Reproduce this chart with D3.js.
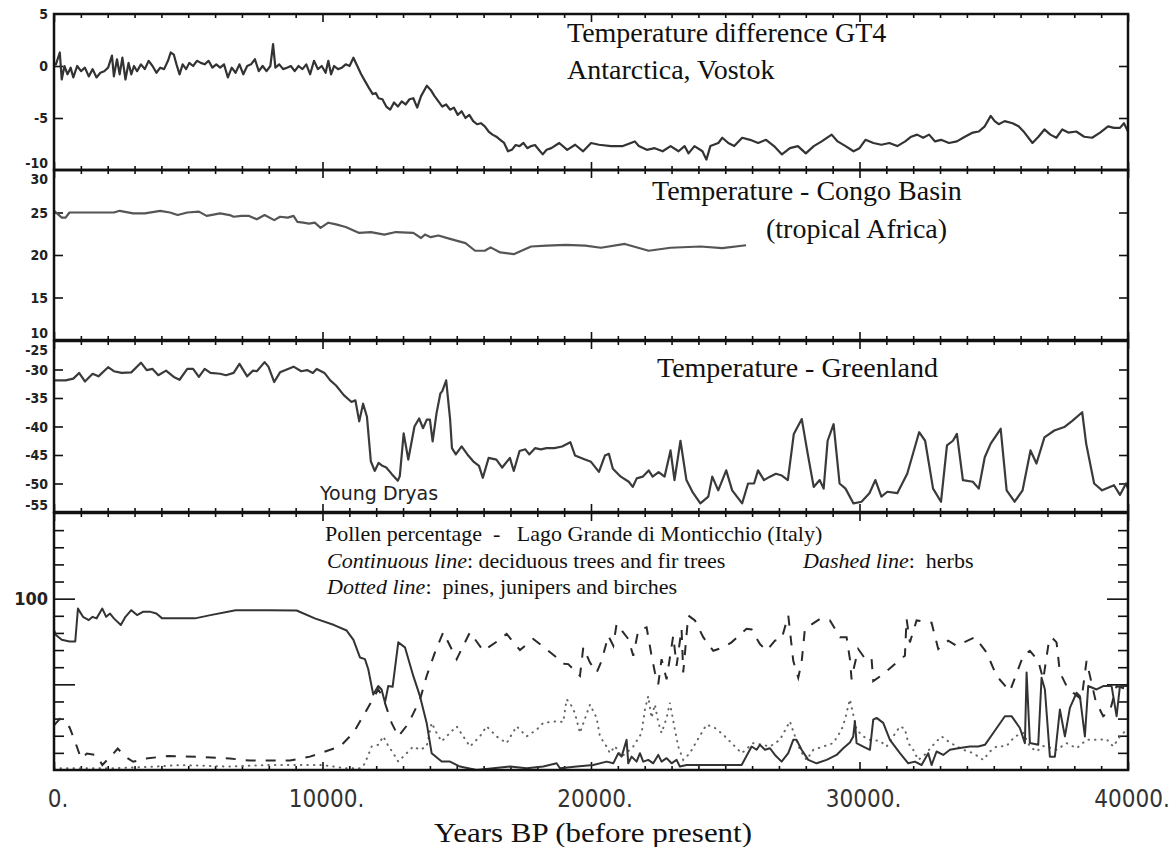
<!DOCTYPE html>
<html>
<head>
<meta charset="utf-8">
<script src="https://cdn.jsdelivr.net/npm/d3@7"></script>
<style>
  html, body { margin: 0; padding: 0; background: #fff; }
  svg { display: block; }
  text { white-space: pre; }
</style>
</head>
<body>
<svg id="chart" width="1171" height="847"></svg>
<script>
// ---------------- DATA ----------------
const xTickValues = [0, 10000, 20000, 30000, 40000];
const xTickLabels = ["0.", "10000.", "20000.", "30000.", "40000."];

const vostokTicks = [5, 0, -5, -10];
const congoTicks = [30, 25, 20, 15, 10];
const greenlandTicks = [-25, -30, -35, -40, -45, -50, -55];
const pollenLabelTicks = [100];

// Vostok temperature difference [years BP, °C]
const vostok = [[0,0.2],[72,0.16],[216,1.3],[288,-1.3],[388,0],[504,-0.8],[619,-0.16],[719,-1.1],[863,0],[1007,-0.5],[1151,-0.16],[1295,-1.0],[1439,-0.3],[1583,-1.1],[1727,-0.65],[1871,-0.5],[2015,-0.16],[2159,1.0],[2230,-1.0],[2346,0.65],[2446,-0.8],[2547,0.8],[2662,-1.3],[2777,0.3],[2878,-0.8],[2979,0],[3094,-0.5],[3238,0.16],[3382,-0.3],[3526,0.5],[3670,0],[3814,-0.65],[3957,-0.16],[4101,-0.3],[4245,0.5],[4346,1.3],[4461,1.1],[4562,0.16],[4677,-0.8],[4792,0.16],[4921,-0.3],[5037,0.3],[5180,0],[5324,0.5],[5468,0.3],[5612,0.16],[5756,0.5],[5900,-0.16],[6044,0.16],[6188,-0.16],[6332,0.16],[6476,-1.1],[6620,-0.16],[6763,-0.65],[6907,0.16],[7051,-0.8],[7195,0],[7339,0.16],[7483,0.65],[7627,-0.5],[7771,0],[7915,-0.5],[8058,0],[8159,2.1],[8245,-0.16],[8389,0.16],[8533,-0.3],[8677,-0.16],[8821,0],[8965,-0.5],[9109,0],[9253,-0.3],[9396,0.16],[9540,-0.8],[9684,0.5],[9828,-0.3],[9972,0],[10116,-0.65],[10217,0.5],[10318,-0.8],[10433,0],[10577,-0.3],[10721,-0.16],[10864,0.16],[11008,0],[11152,0.8],[11296,0],[11440,-0.8],[11584,-1.45],[11728,-2.1],[11872,-2.7],[11986,-2.6],[12088,-3.1],[12231,-3.2],[12375,-3.9],[12519,-4.2],[12663,-3.5],[12807,-3.9],[12951,-3.4],[13095,-3.7],[13239,-3.2],[13383,-3.1],[13527,-4.0],[13670,-2.9],[13886,-1.9],[14030,-2.3],[14174,-2.9],[14318,-3.4],[14461,-3.9],[14605,-3.7],[14749,-4.2],[14893,-4.0],[15037,-4.7],[15181,-4.35],[15325,-5.0],[15468,-4.7],[15612,-5.3],[15756,-5.6],[15900,-5.5],[16044,-5.8],[16188,-6.3],[16332,-6.6],[16476,-6.8],[16620,-7.1],[16764,-7.4],[16908,-8.2],[17051,-8.06],[17195,-7.6],[17339,-7.7],[17483,-7.4],[17627,-7.9],[17771,-7.7],[17915,-7.6],[18058,-8.06],[18202,-8.5],[18346,-8.06],[18522,-7.9],[18818,-7.4],[19114,-8.06],[19410,-7.57],[19707,-8.2],[20003,-7.4],[20299,-7.57],[20744,-7.7],[21188,-7.7],[21484,-7.4],[21632,-7.25],[21780,-7.7],[22077,-8.06],[22373,-7.9],[22669,-8.2],[22965,-7.7],[23261,-8.2],[23484,-7.7],[23632,-8.4],[23854,-7.7],[24150,-8.2],[24298,-9.0],[24446,-7.7],[24743,-7.4],[24891,-6.9],[25113,-7.4],[25335,-7.7],[25631,-6.9],[25928,-7.1],[26224,-7.4],[26520,-7.1],[26816,-7.7],[27112,-8.5],[27409,-7.9],[27705,-7.7],[28001,-8.4],[28297,-7.7],[28593,-7.25],[28963,-6.6],[29185,-7.25],[29482,-7.7],[29778,-8.2],[30000,-7.9],[30222,-7.1],[30518,-7.4],[30815,-7.57],[31111,-7.4],[31407,-7.7],[31703,-7.25],[31925,-6.8],[32147,-6.6],[32370,-6.9],[32592,-6.6],[32814,-7.25],[33036,-7.1],[33332,-7.4],[33628,-7.25],[33925,-6.8],[34221,-6.4],[34443,-6.3],[34665,-5.8],[34887,-4.8],[35035,-5.3],[35184,-5.6],[35406,-5.3],[35702,-5.5],[35924,-5.8],[36146,-6.4],[36442,-7.4],[36665,-6.8],[36887,-6.1],[37109,-6.6],[37331,-6.9],[37553,-6.1],[37775,-6.4],[38072,-6.3],[38368,-6.8],[38664,-6.9],[38960,-6.4],[39257,-5.8],[39479,-5.95],[39701,-5.95],[39849,-5.5],[40000,-6.3]];

// Congo Basin temperature [years BP, °C]
const congo = [[0,25.2],[144,24.8],[288,24.4],[432,24.4],[576,25.0],[1079,25],[1655,25],[2230,25],[2446,25.2],[2950,24.9],[3382,24.9],[3957,25.2],[4317,25],[4605,24.7],[4964,25],[5396,25.1],[5684,24.6],[6188,24.9],[6547,24.7],[6691,24.5],[6979,24.6],[7267,24.6],[7555,24.2],[7843,24.7],[8202,24.1],[8418,24.5],[8706,24.4],[8922,24.6],[9065,23.9],[9281,23.8],[9497,23.7],[9713,23.8],[9929,23.2],[10217,23.8],[10505,23.6],[10864,23.3],[11368,22.6],[11800,22.7],[12303,22.4],[12735,22.7],[13383,22.6],[13670,22.0],[13814,22.4],[14030,22.1],[14318,22.3],[14749,21.9],[15325,21.4],[15684,20.5],[16044,20.5],[16260,20.9],[16620,20.3],[17123,20.1],[17411,20.5],[17771,21.0],[18346,21.1],[19065,21.2],[19785,21.1],[20370,20.85],[21259,21.3],[22148,20.5],[22962,20.85],[24073,21.0],[24887,20.8],[25776,21.15]];

// Greenland temperature [years BP, °C]
const greenland = [[0,-31.9],[432,-31.9],[720,-31.6],[935,-30.6],[1151,-32.1],[1439,-30.75],[1655,-31.2],[2015,-29.6],[2230,-30.3],[2518,-30.6],[2878,-30.5],[3238,-28.8],[3454,-30.1],[3670,-29.9],[3885,-31.0],[4173,-30.2],[4461,-31.3],[4677,-31.8],[4964,-29.9],[5180,-29.9],[5396,-31.3],[5612,-29.9],[5828,-30.6],[6188,-30.75],[6404,-31.0],[6691,-30.6],[6907,-29.0],[7195,-31.2],[7411,-30.2],[7555,-30.3],[7843,-28.7],[7986,-29.5],[8202,-32.2],[8418,-30.5],[8922,-29.5],[9209,-30.3],[9425,-30.1],[9641,-30.6],[9785,-29.9],[10073,-30.6],[10289,-31.9],[10505,-32.8],[10793,-34.5],[11080,-35.7],[11224,-35.4],[11368,-39.1],[11512,-36.0],[11656,-38.3],[11800,-46.1],[11944,-47.8],[12087,-46.4],[12231,-46.9],[12375,-47.2],[12591,-48.4],[12807,-49.5],[12879,-48.7],[13023,-41.2],[13195,-45.8],[13425,-40.0],[13598,-38.6],[13742,-40.3],[13886,-38.8],[14001,-38.8],[14102,-42.6],[14246,-37.7],[14390,-34.2],[14462,-33.8],[14606,-31.9],[14750,-38.6],[14822,-43.8],[14966,-44.9],[15181,-43.5],[15397,-44.9],[15612,-46.1],[15828,-46.9],[15972,-49.0],[16188,-45.5],[16476,-45.8],[16692,-47.2],[16980,-45.5],[17124,-47.8],[17339,-44.3],[17555,-44.0],[17699,-44.9],[17915,-43.8],[18130,-44.0],[18346,-43.8],[18634,-43.8],[18922,-43.5],[19230,-42.75],[19407,-45.1],[19704,-45.65],[20000,-46.2],[20296,-47.97],[20518,-45.1],[20666,-44.8],[20814,-47.4],[21110,-48.8],[21407,-49.7],[21555,-50.6],[21703,-49.1],[21925,-48.8],[22148,-47.7],[22296,-48.8],[22518,-48.0],[22740,-48.8],[22962,-44.2],[23110,-49.4],[23332,-42.5],[23554,-49.4],[23777,-51.45],[24073,-53.5],[24369,-52.3],[24517,-48.8],[24739,-51.2],[25036,-47.7],[25258,-51.2],[25628,-53.5],[25850,-50.0],[26073,-50.0],[26221,-47.7],[26443,-49.4],[26665,-48.8],[26887,-48.3],[27109,-48.6],[27331,-49.4],[27554,-41.3],[27850,-38.7],[28072,-44.8],[28294,-50.6],[28517,-49.4],[28665,-50.9],[28813,-42.5],[29035,-39.6],[29258,-50.0],[29480,-50.9],[29776,-53.5],[30074,-53.2],[30370,-51.7],[30592,-49.4],[30815,-52.3],[31037,-51.45],[31407,-51.7],[31777,-48.3],[32221,-41.0],[32444,-42.5],[32740,-50.9],[33036,-53.2],[33258,-43.3],[33480,-42.5],[33628,-41.3],[33851,-49.4],[34221,-49.7],[34443,-50.9],[34665,-45.4],[34887,-43.0],[35258,-40.4],[35480,-51.2],[35776,-53.2],[36073,-51.2],[36369,-44.2],[36591,-46.5],[36887,-41.9],[37257,-40.7],[37627,-40.1],[37924,-39.0],[38294,-37.5],[38442,-43.0],[38739,-50.0],[39035,-51.2],[39479,-50.3],[39701,-52.0],[39924,-50.0],[40000,-50.9]];

// Pollen % – deciduous trees and fir trees (continuous line)
const pollenTrees = [[0,81.7],[72,78.8],[288,76],[576,75],[791,75],[892,94.2],[1079,89.4],[1295,87.5],[1439,89.4],[1583,88.5],[1799,94.2],[1943,89.4],[2087,91.3],[2230,88.5],[2489,84.6],[2662,89.4],[2878,93.3],[3094,90.4],[3310,92.3],[3597,92.3],[3813,91.3],[4029,88.5],[4677,88.5],[5252,88.5],[5828,90.4],[6763,93.3],[7986,93.3],[9038,93.1],[9713,88.5],[10433,84.6],[10900,81.4],[11152,76],[11395,65.7],[11581,64.7],[11705,58.8],[11891,44],[12077,49],[12200,47],[12326,39.4],[12450,49],[12612,48.6],[12822,74.5],[13071,71.6],[13381,54.9],[13630,43.1],[13879,27.5],[14065,9.8],[14438,4.9],[14748,4.9],[15120,2],[15741,0],[16360,1],[16981,2],[17603,1],[18222,2],[18719,3.9],[18843,1],[19465,2],[20085,2.9],[20582,4.9],[20830,3.9],[21016,9.8],[21140,7.8],[21326,17.6],[21388,3.9],[21512,7.8],[21698,4.9],[21822,9.8],[21946,4.9],[22132,5.9],[22318,3.9],[22504,8.8],[22628,4.9],[22815,6.9],[23001,3.9],[23187,5.9],[23311,2],[23560,2.9],[24057,2.9],[24802,2.9],[25610,2.9],[25982,13.7],[26168,11.8],[26292,14.7],[26478,11.8],[26665,12.7],[26851,8.8],[27099,4.9],[27347,9.8],[27533,17.6],[27657,17.6],[27843,11.8],[28092,5.9],[28402,3.9],[28775,5.9],[29147,8.8],[29395,12.7],[29643,16],[29767,19.6],[29829,28.4],[29891,15.7],[30139,13.7],[30388,11.8],[30512,29.4],[30636,30.4],[30884,27.5],[31133,17.6],[31505,9.8],[31815,3.9],[32064,4.9],[32312,2.9],[32560,9.8],[32684,2.9],[32870,10.8],[33118,8.8],[33367,11.8],[33677,12.7],[34112,13.7],[34422,13.7],[34672,14.7],[34981,21.6],[35415,31.4],[35663,31.4],[35974,24.5],[36160,15.7],[36223,56.9],[36347,15.7],[36657,14.7],[36781,53.9],[36905,47],[37091,7.8],[37277,7.8],[37463,35.3],[37650,19.6],[37836,36.3],[38084,45.1],[38208,43.1],[38394,19.6],[38518,49],[38829,47],[39077,49],[39389,49],[39575,31.4],[39699,49],[40000,49]];

// Pollen % – herbs (dashed line)
const pollenHerbs = [[0,26],[216,29.8],[576,25],[791,16.3],[1007,6.7],[1223,9.6],[1583,8.7],[1799,2.9],[2158,8.7],[2374,12.5],[2662,7.7],[2950,4.8],[3382,6.7],[4245,8.1],[5396,7.7],[6547,6.7],[7299,5.5],[8789,5.5],[9533,7.8],[10651,13.7],[11146,21.6],[11582,33.3],[12077,47],[12264,42],[12574,27.5],[12822,19.6],[13195,27],[13630,41],[13879,54.9],[14188,68.6],[14498,80.4],[14996,64.7],[15492,80.4],[15988,69.6],[16546,75.5],[16858,79.4],[17354,70],[17850,76.5],[18222,72],[18719,65.7],[18967,62],[19153,61.8],[19589,54.9],[19713,71.6],[19962,62.7],[20210,56.9],[20396,63.7],[20644,78.4],[20830,72.5],[20954,85.3],[21388,76.5],[21574,66.7],[21760,81.4],[22070,83.3],[22256,66.7],[22380,56.9],[22504,50],[22628,64.7],[22815,52.9],[23063,78.4],[23187,60.8],[23373,82.4],[23435,56.9],[23622,90.2],[23870,87.3],[24180,77.5],[24553,69.6],[24925,71.6],[25235,74.5],[25793,82.4],[25982,82],[26292,73.5],[26540,69.6],[26851,75.5],[27099,76.5],[27347,90.2],[27533,63.7],[27719,53.9],[27843,62.7],[27967,82.4],[28526,88.2],[28899,87.3],[29271,77.5],[29519,77.5],[29643,64.7],[29705,52.9],[29767,58],[29953,70.6],[30264,63.7],[30450,64.7],[30512,51.9],[30884,55.9],[31381,62.7],[31691,66.7],[31753,88.2],[31877,74.5],[32126,87.3],[32498,86.3],[32684,86],[32932,70.6],[33305,75.5],[33615,72.5],[34298,77.5],[34733,68.6],[35105,54.9],[35602,46],[36098,66.7],[36347,69.6],[36657,63.7],[36843,52.9],[37029,72.5],[37153,77.5],[37339,74.5],[37463,56.9],[37712,49],[37960,45.1],[38270,41.2],[38456,63.7],[38800,40],[39077,31.4],[39326,34.3],[39575,49],[40000,47]];

// Pollen % – pines, junipers and birches (dotted line)
const pollenPines = [[0,1],[2230,1],[3670,1.9],[4677,2.9],[6547,2],[7986,2.9],[10001,2.9],[10864,1],[11440,1],[11582,3.9],[11830,13.7],[12077,14.7],[12264,19.6],[12450,14],[12636,9.8],[12822,4.9],[13133,9.8],[13381,13.7],[13630,11.8],[13879,13.7],[14065,27.5],[14250,21.6],[14436,16.7],[14746,21.6],[14996,25.5],[15244,19.6],[15492,13.7],[15864,19.6],[16112,25.5],[16484,19.6],[16858,15.7],[17230,25.5],[17602,19.6],[17975,23.5],[18222,27.5],[18719,28.4],[18967,28],[19091,41.2],[19215,39.2],[19401,33.3],[19589,21.6],[19775,30],[19962,38.2],[20210,30.4],[20334,19.6],[20582,13.7],[20706,9.8],[20892,14],[21140,7.8],[21388,11],[21574,13.7],[21884,21.6],[22008,35.3],[22132,43.1],[22256,30.4],[22380,38.2],[22504,28],[22628,21.6],[22815,30.4],[22939,39.2],[23125,23.5],[23249,13.7],[23435,5.9],[23684,9.8],[23932,16.7],[24305,26.5],[24615,24.5],[24925,20.6],[25235,15.7],[25610,9.8],[26044,15.7],[26292,15],[26665,13.7],[27037,17.6],[27409,28.4],[27533,22.5],[27781,11.8],[28030,5.9],[28278,11.8],[28651,13.7],[29023,15.7],[29333,23.5],[29457,29.4],[29643,41.2],[29891,23.5],[30139,19.6],[30388,17.6],[30760,17],[31008,13.7],[31505,25.5],[31691,24],[31815,15.7],[32002,11.8],[32188,5.9],[32436,9],[32808,15.7],[33056,19.6],[33367,16],[33863,11.8],[34236,9.8],[34608,5.9],[34857,10.8],[35105,13.7],[35477,14],[35788,19.6],[36098,21.6],[36347,13.7],[36595,10.8],[36843,14],[37091,13],[37339,11.8],[37712,15.7],[38084,12.7],[38456,17.6],[38829,17.6],[39201,18],[39450,13.7],[39699,19.6],[39948,23.5]];

// ---------------- DRAWING ----------------
const svg = d3.select("#chart");
const LEFT = 54, RIGHT = 1128;
const x = d3.scaleLinear().domain([0, 40000]).range([LEFT, RIGHT]);

const serif = "'Liberation Serif', 'Times New Roman', serif";
const sansC = "'DejaVu Sans Condensed', 'Liberation Sans Narrow', 'DejaVu Sans', sans-serif";
const sans = "'DejaVu Sans', sans-serif";

const panels = [
  {top: 14,  bottom: 170, domain: [-10, 5],  tickLabels: vostokTicks,   inner: [0, -5], fontSize: 14},
  {top: 170, bottom: 340, domain: [10, 30],  tickLabels: congoTicks,    inner: [25, 20, 15], fontSize: 14},
  {top: 341, bottom: 512, domain: [-55, -25],tickLabels: greenlandTicks,inner: [-30, -35, -40, -45, -50], fontSize: 14},
  {top: 513, bottom: 770, domain: [0, 150],  tickLabels: pollenLabelTicks, inner: null, fontSize: 18}
];
panels.forEach(p => { p.y = d3.scaleLinear().domain(p.domain).range([p.bottom, p.top]); });

const minorYears = d3.range(0, 40001, 1000).filter(v => v % 10000 !== 0);
const majorYears = d3.range(0, 40001, 10000);

function cleanAxis(g) {
  g.select(".domain").remove();
  g.selectAll("line").attr("stroke", "#111").attr("stroke-width", 1.6);
}

panels.forEach((p, i) => {
  const g = svg.append("g");
  g.append("g").attr("transform", `translate(0,${p.bottom})`)
    .call(d3.axisBottom(x).tickValues(minorYears).tickSize(-4).tickFormat("")).call(cleanAxis);
  g.append("g").attr("transform", `translate(0,${p.bottom})`)
    .call(d3.axisBottom(x).tickValues(majorYears).tickSize(-8).tickFormat("")).call(cleanAxis);
  g.append("g").attr("transform", `translate(0,${p.top})`)
    .call(d3.axisTop(x).tickValues(minorYears).tickSize(-4).tickFormat("")).call(cleanAxis);
  g.append("g").attr("transform", `translate(0,${p.top})`)
    .call(d3.axisTop(x).tickValues(majorYears).tickSize(-8).tickFormat("")).call(cleanAxis);

  if (p.inner) {
    g.append("g").attr("transform", `translate(${LEFT},0)`)
      .call(d3.axisLeft(p.y).tickValues(p.inner).tickSize(-9).tickFormat("")).call(cleanAxis);
    g.append("g").attr("transform", `translate(${RIGHT},0)`)
      .call(d3.axisRight(p.y).tickValues(p.inner).tickSize(-9).tickFormat("")).call(cleanAxis);
  } else {
    const minorP = d3.range(10, 150, 10).filter(v => v % 50 !== 0);
    [[LEFT, d3.axisLeft], [RIGHT, d3.axisRight]].forEach(([xx, ax]) => {
      g.append("g").attr("transform", `translate(${xx},0)`)
        .call(ax(p.y).tickValues(minorP).tickSize(-10).tickFormat("")).call(cleanAxis);
      g.append("g").attr("transform", `translate(${xx},0)`)
        .call(ax(p.y).tickValues([50, 100]).tickSize(-21).tickFormat("")).call(cleanAxis);
    });
  }

  g.selectAll("text.yl").data(p.tickLabels).join("text")
    .attr("class", "yl")
    .attr("x", LEFT - 6)
    .attr("y", d => {
      let yy = p.y(d);
      if (d === p.domain[1] && i > 0) yy += 9;
      if (d === p.domain[0] && i < 3) yy -= 7;
      return yy;
    })
    .attr("dy", "0.36em")
    .attr("text-anchor", "end")
    .attr("font-family", sansC)
    .attr("font-weight", "bold")
    .attr("font-size", p.fontSize)
    .attr("fill", "#222")
    .text(d => d);
});

// ---- Lines ----
const lineGen = yScale => d3.line().x(d => x(d[0])).y(d => yScale(d[1]));

svg.append("path").datum(vostok).attr("d", lineGen(panels[0].y))
  .attr("fill", "none").attr("stroke", "#333").attr("stroke-width", 2.2).attr("stroke-linejoin", "round");
svg.append("path").datum(congo).attr("d", lineGen(panels[1].y))
  .attr("fill", "none").attr("stroke", "#555").attr("stroke-width", 2.2).attr("stroke-linejoin", "round");
svg.append("path").datum(greenland).attr("d", lineGen(panels[2].y))
  .attr("fill", "none").attr("stroke", "#3a3a3a").attr("stroke-width", 2.2).attr("stroke-linejoin", "round");

const py = panels[3].y;
svg.append("path").datum(pollenPines).attr("d", lineGen(py))
  .attr("fill", "none").attr("stroke", "#666").attr("stroke-width", 2)
  .attr("stroke-dasharray", "0.5,6").attr("stroke-linecap", "round");
svg.append("path").datum(pollenHerbs).attr("d", lineGen(py))
  .attr("fill", "none").attr("stroke", "#2a2a2a").attr("stroke-width", 2)
  .attr("stroke-dasharray", "10,10");
svg.append("path").datum(pollenTrees).attr("d", lineGen(py))
  .attr("fill", "none").attr("stroke", "#333").attr("stroke-width", 2).attr("stroke-linejoin", "round");

// ---- Frames ----
panels.forEach(p => {
  svg.append("rect").attr("x", LEFT).attr("y", p.top)
    .attr("width", RIGHT - LEFT).attr("height", p.bottom - p.top)
    .attr("fill", "none").attr("stroke", "#111").attr("stroke-width", 2.5);
});

// ---- X tick labels ----
svg.selectAll("text.xl").data(xTickValues).join("text")
  .attr("class", "xl")
  .attr("x", d => x(d) + 4)
  .attr("y", 807)
  .attr("text-anchor", "middle")
  .attr("font-family", sansC)
  .attr("font-size", 24)
  .attr("fill", "#333")
  .text((d, i) => xTickLabels[i]);

svg.append("text").attr("x", 593).attr("y", 842).attr("text-anchor", "middle")
  .attr("font-family", serif).attr("font-size", 27).attr("fill", "#111")
  .attr("textLength", 318).attr("lengthAdjust", "spacingAndGlyphs")
  .text("Years BP (before present)");

// ---- Panel titles ----
const titleSize = 28;
const title = (tx, ty, s) => svg.append("text").attr("x", tx).attr("y", ty)
  .attr("font-family", serif).attr("font-size", titleSize).attr("fill", "#111").text(s);
title(567, 42, "Temperature difference GT4");
title(567, 79, "Antarctica, Vostok");
title(652, 200, "Temperature - Congo Basin");
title(766, 238, "(tropical Africa)");
title(657, 377, "Temperature - Greenland");

svg.append("text").attr("x", 320).attr("y", 500).attr("font-family", sans).attr("font-size", 19).attr("fill", "#222")
  .text("Young Dryas");

const pSize = 22;
const ptext = (tx, ty) => svg.append("text").attr("x", tx).attr("y", ty)
  .attr("font-family", serif).attr("font-size", pSize).attr("fill", "#111");
ptext(325, 541).text("Pollen percentage  -   Lago Grande di Monticchio (Italy)");
const l2 = ptext(327, 568);
l2.append("tspan").attr("font-style", "italic").text("Continuous line");
l2.append("tspan").text(": deciduous trees and fir trees");
const l3 = ptext(803, 568);
l3.append("tspan").attr("font-style", "italic").text("Dashed line");
l3.append("tspan").text(":  herbs");
const l4 = ptext(327, 594);
l4.append("tspan").attr("font-style", "italic").text("Dotted line");
l4.append("tspan").text(":  pines, junipers and birches");
</script>
</body>
</html>
